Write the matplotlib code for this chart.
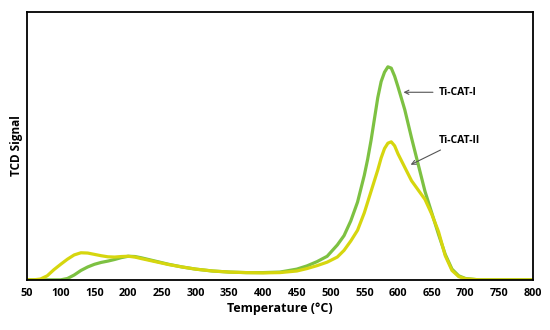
import matplotlib
matplotlib.use("Agg")
import matplotlib.pyplot as plt

temps = [50, 60, 70, 80, 90, 100, 110, 120, 130, 140, 150, 160, 170, 180, 190,
         200, 210, 220, 240, 260, 280, 300, 325, 350, 375, 400, 425, 450, 465,
         480, 495, 510, 520, 530, 540, 550, 555, 560, 565, 570, 575, 580, 585,
         590, 595, 600, 610, 620, 630, 640, 650, 660, 670, 680, 690, 700, 720,
         750, 800]

cat_1 = [0, 0, 0, 0, 0, 0, 0.005, 0.018, 0.035, 0.048, 0.058, 0.065, 0.070,
         0.076, 0.083, 0.088, 0.087, 0.082, 0.070, 0.058, 0.048, 0.040, 0.033,
         0.029, 0.027, 0.027, 0.029, 0.040, 0.052, 0.068, 0.088, 0.13, 0.165,
         0.22, 0.29, 0.39, 0.45, 0.52, 0.60, 0.68, 0.74, 0.775, 0.795, 0.79,
         0.76, 0.72, 0.635, 0.53, 0.43, 0.33, 0.25, 0.17, 0.095, 0.04, 0.015,
         0.005, 0, 0, 0]

cat_2 = [0, 0, 0.003, 0.015, 0.038, 0.058, 0.077, 0.093, 0.101, 0.100, 0.095,
         0.090, 0.086, 0.085, 0.087, 0.088, 0.085, 0.079, 0.068, 0.057, 0.048,
         0.040, 0.033, 0.029, 0.027, 0.026, 0.027, 0.033, 0.042, 0.053, 0.066,
         0.085, 0.11, 0.145, 0.185, 0.25, 0.29, 0.33, 0.37, 0.41, 0.455, 0.49,
         0.51, 0.515, 0.50, 0.47, 0.42, 0.37, 0.335, 0.30, 0.245, 0.18, 0.09,
         0.035, 0.012, 0.004, 0, 0, 0]

xticks = list(range(50, 801, 50))
font = "Open Sans"

fig = plt.figure(figsize=(5.5, 3.3), dpi=100)
ax = fig.add_axes([0.049, 0.152, 0.920, 0.812])

ax.plot(temps, cat_1, color="#7dc142", lw=2.3, solid_capstyle="round")
ax.plot(temps, cat_2, color="#d6d60e", lw=2.3, solid_capstyle="round")

ax.set_xlim(50, 800)
ax.set_ylim(0, 1.0)
ax.set_xticks(xticks)
ax.set_xticklabels([str(t) for t in xticks], fontsize=7.8, fontweight="bold",
                   family=font)
ax.set_yticks([])
ax.tick_params(axis="x", length=0, pad=6)
for s in ax.spines.values():
    s.set_linewidth(1.3)

ax.set_xlabel("Temperature (\u00b0C)", fontsize=9, fontweight="bold",
              family=font, labelpad=2)
ax.set_ylabel("TCD Signal", fontsize=8.5, fontweight="bold", family=font,
              labelpad=3)

arrow = dict(arrowstyle="->", color="#555555", lw=0.8)
ax.annotate("Ti-CAT-I", xy=(604, 0.70), xytext=(660, 0.70), fontsize=7.5,
            fontweight="bold", family=font, va="center", arrowprops=arrow)
ax.annotate("Ti-CAT-II", xy=(615, 0.425), xytext=(661, 0.52), fontsize=7.5,
            fontweight="bold", family=font, va="center", arrowprops=arrow)

fig.savefig("out.png", dpi=100)
